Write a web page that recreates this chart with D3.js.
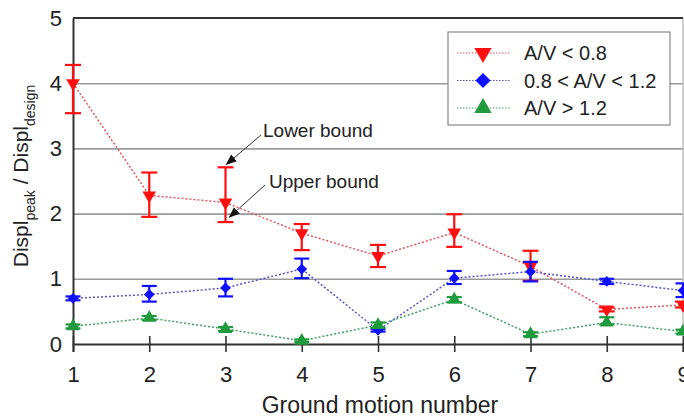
<!DOCTYPE html>
<html>
<head>
<meta charset="utf-8">
<script src="https://cdn.jsdelivr.net/npm/d3@7"></script>
<style>
  html, body { margin: 0; padding: 0; background: #fff; }
  svg { display: block; font-family: "Liberation Sans", Arial, Helvetica, sans-serif; }
</style>
</head>
<body>
<svg id="chart" width="684" height="417"></svg>
<script>
// Ground motion numbers on the horizontal axis
const motions = [1, 2, 3, 4, 5, 6, 7, 8, 9];
const yTicks = [0, 1, 2, 3, 4, 5];

// A/V < 0.8 : mean ratio and the ends of its range
const lowAV      = [4.00, 2.28, 2.17, 1.70, 1.35, 1.71, 1.19, 0.53, 0.60];
const lowAVTop   = [4.28, 2.63, 2.71, 1.84, 1.52, 1.99, 1.43, 0.56, 0.65];
const lowAVBot   = [3.54, 1.95, 1.87, 1.44, 1.18, 1.49, 0.97, 0.50, 0.56];

// 0.8 < A/V < 1.2
const midAV      = [0.70, 0.76, 0.86, 1.15, 0.21, 1.01, 1.11, 0.96, 0.82];
const midAVTop   = [0.73, 0.89, 1.00, 1.31, 0.23, 1.12, 1.26, 1.00, 0.93];
const midAVBot   = [0.67, 0.65, 0.73, 1.01, 0.19, 0.92, 0.96, 0.92, 0.72];

// A/V > 1.2
const highAV     = [0.27, 0.40, 0.23, 0.05, 0.29, 0.68, 0.15, 0.33, 0.19];
const highAVTop  = [0.30, 0.43, 0.26, 0.07, 0.33, 0.72, 0.18, 0.41, 0.22];
const highAVBot  = [0.24, 0.37, 0.20, 0.03, 0.25, 0.64, 0.12, 0.30, 0.16];

const seriesNames = ["A/V < 0.8", "0.8 < A/V < 1.2", "A/V > 1.2"];

const svg = d3.select("#chart");
const plotL = 73, plotR = 683, plotT = 18, plotB = 344;

const x = d3.scaleLinear().domain([1, 9]).range([plotL, plotR]);
const y = d3.scaleLinear().domain([0, 5]).range([plotB, plotT]);

const series = [
  { name: seriesNames[0], v: lowAV,  hi: lowAVTop,  lo: lowAVBot,
    mark: "#ff1010", line: "#e0555a", shape: "down", size: 80, cap: 8 },
  { name: seriesNames[1], v: midAV,  hi: midAVTop,  lo: midAVBot,
    mark: "#1010ff", line: "#5555d0", shape: "diamond", size: 58, cap: 7.5 },
  { name: seriesNames[2], v: highAV, hi: highAVTop, lo: highAVBot,
    mark: "#1f9a3c", line: "#3fa060", shape: "up", size: 80, cap: 7.5 }
];

function symbolPath(shape, size) {
  if (shape === "diamond") return d3.symbol(d3.symbolSquare, size)();
  return d3.symbol(d3.symbolTriangle, size)();
}
function symbolRotate(shape) {
  if (shape === "diamond") return 45;
  if (shape === "down") return 180;
  return 0;
}

// horizontal grid lines
svg.append("g")
  .attr("transform", `translate(${plotL},0)`)
  .call(d3.axisLeft(y).tickValues([1, 2, 3, 4]).tickSize(-(plotR - plotL)).tickFormat(""))
  .call(g => g.select(".domain").remove())
  .call(g => g.selectAll(".tick line").attr("stroke", "#9a9a9a").attr("stroke-width", 1.6));

// plot frame: right edge light, top dark
svg.append("line").attr("x1", plotR).attr("x2", plotR).attr("y1", plotT).attr("y2", plotB)
  .attr("stroke", "#b0b0b0").attr("stroke-width", 1.2);
svg.append("line").attr("x1", plotL).attr("x2", plotR).attr("y1", plotT).attr("y2", plotT)
  .attr("stroke", "#333").attr("stroke-width", 2);

// y axis with labels
svg.append("g")
  .attr("transform", `translate(${plotL},0)`)
  .call(d3.axisLeft(y).tickValues(yTicks).tickSize(0).tickPadding(11).tickFormat(d3.format("d")))
  .call(g => g.select(".domain").attr("stroke", "#333").attr("stroke-width", 2))
  .call(g => g.selectAll(".tick text").attr("font-size", 22).attr("fill", "#222")
    .attr("font-family", "Liberation Sans, Arial, sans-serif"));

// x axis: ticks crossing the axis line
svg.append("g")
  .attr("transform", `translate(0,${plotB})`)
  .call(d3.axisBottom(x).tickValues(motions).tickSize(8).tickPadding(14).tickFormat(d3.format("d")))
  .call(g => g.select(".domain").attr("stroke", "#333").attr("stroke-width", 2))
  .call(g => g.selectAll(".tick line").attr("y1", -8).attr("y2", 8)
    .attr("stroke", "#333").attr("stroke-width", 1.6))
  .call(g => g.selectAll(".tick text").attr("font-size", 22).attr("fill", "#222")
    .attr("font-family", "Liberation Sans, Arial, sans-serif"));

// axis titles
svg.append("text")
  .attr("x", 380).attr("y", 413)
  .attr("text-anchor", "middle")
  .attr("font-size", 23).attr("fill", "#222")
  .text("Ground motion number");

const yt = svg.append("text")
  .attr("transform", "translate(28,176) rotate(-90)")
  .attr("text-anchor", "middle")
  .attr("font-size", 21).attr("fill", "#222");
yt.append("tspan").text("Displ");
yt.append("tspan").attr("font-size", 14).attr("dy", 7).text("peak");
yt.append("tspan").attr("dy", -7).text(" / Displ");
yt.append("tspan").attr("font-size", 14).attr("dy", 7).text("design");

// series: dotted connecting line, error bars, markers
const plot = svg.append("g");
series.forEach(s => {
  const pts = motions.map((m, i) => ({ m, v: s.v[i], hi: s.hi[i], lo: s.lo[i] }));
  plot.append("path")
    .datum(pts)
    .attr("fill", "none")
    .attr("stroke", s.line)
    .attr("stroke-width", 1.5)
    .attr("stroke-dasharray", "2,2")
    .attr("d", d3.line().x(d => x(d.m)).y(d => y(d.v)));

  const eb = plot.append("g").selectAll("g").data(pts).join("g")
    .attr("stroke", s.mark).attr("stroke-width", 2.2);
  eb.append("line").attr("x1", d => x(d.m)).attr("x2", d => x(d.m))
    .attr("y1", d => y(d.hi)).attr("y2", d => y(d.lo));
  eb.append("line").attr("x1", d => x(d.m) - s.cap).attr("x2", d => x(d.m) + s.cap)
    .attr("y1", d => y(d.hi)).attr("y2", d => y(d.hi));
  eb.append("line").attr("x1", d => x(d.m) - s.cap).attr("x2", d => x(d.m) + s.cap)
    .attr("y1", d => y(d.lo)).attr("y2", d => y(d.lo));

  plot.append("g").selectAll("path").data(pts).join("path")
    .attr("d", symbolPath(s.shape, s.size))
    .attr("transform", d => `translate(${x(d.m)},${y(d.v)}) rotate(${symbolRotate(s.shape)})`)
    .attr("fill", s.mark);
});

// annotations pointing at the range ends of motion 3
const defs = svg.append("defs");
defs.append("marker").attr("id", "ah")
  .attr("viewBox", "0 0 10 10").attr("refX", 9).attr("refY", 5)
  .attr("markerWidth", 11).attr("markerHeight", 11).attr("markerUnits", "userSpaceOnUse")
  .attr("orient", "auto")
  .append("path").attr("d", "M0,1 L10,5 L0,9 Z").attr("fill", "#111");

const annX = x(3);
svg.append("line")
  .attr("x1", 261).attr("y1", 135).attr("x2", annX + 1).attr("y2", y(lowAVTop[2]) - 3)
  .attr("stroke", "#333").attr("stroke-width", 1).attr("marker-end", "url(#ah)");
svg.append("line")
  .attr("x1", 265).attr("y1", 185).attr("x2", annX + 4).attr("y2", y(lowAVBot[2]) - 5)
  .attr("stroke", "#333").attr("stroke-width", 1).attr("marker-end", "url(#ah)");
svg.append("text").attr("x", 263).attr("y", 137).attr("font-size", 19).attr("fill", "#222")
  .text("Lower bound");
svg.append("text").attr("x", 269).attr("y", 188).attr("font-size", 19).attr("fill", "#222")
  .text("Upper bound");

// legend
const lg = svg.append("g");
lg.append("rect").attr("x", 448).attr("y", 32).attr("width", 222).attr("height", 93)
  .attr("fill", "#fff").attr("stroke", "#888").attr("stroke-width", 1.2);
const rowY = d3.scalePoint().domain(seriesNames).range([53, 108]);
series.forEach(s => {
  const yy = rowY(s.name);
  lg.append("line").attr("x1", 457).attr("x2", 510).attr("y1", yy).attr("y2", yy)
    .attr("stroke", s.line).attr("stroke-width", 1.2).attr("stroke-dasharray", "1.5,1.5");
  lg.append("path").attr("d", symbolPath(s.shape, s.shape === "diamond" ? 115 : 130))
    .attr("transform", `translate(483,${yy}) rotate(${symbolRotate(s.shape)})`)
    .attr("fill", s.mark);
  lg.append("text").attr("x", 524).attr("y", yy).attr("dy", "0.35em")
    .attr("font-size", 20).attr("fill", "#222").text(s.name);
});
</script>
</body>
</html>
